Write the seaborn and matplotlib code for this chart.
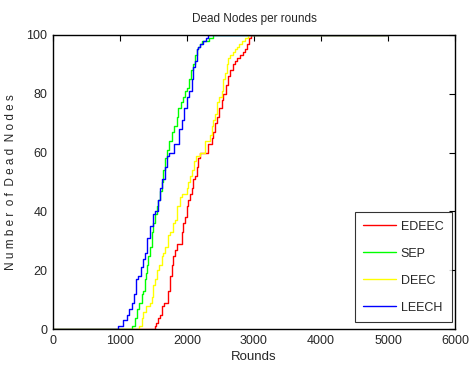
import pandas as pd
import matplotlib
matplotlib.use("Agg")
import matplotlib.pyplot as plt
import seaborn as sns

# round at which each step of the dead-node curve starts
edeec_x = [0, 1523, 1538, 1572, 1597, 1622, 1657, 1722, 1746, 1771, 1796, 1821, 1856, 1921,
           1945, 1970, 1995, 2020, 2045, 2070, 2095, 2120, 2144, 2169, 2194, 2319, 2368, 2393,
           2418, 2443, 2483, 2518, 2542, 2582, 2617, 2642, 2682, 2717, 2752, 2791, 2831, 2866,
           2901, 2931, 2960, 5000]
edeec_y = [0, 1, 2, 4, 5, 8, 9, 13, 18, 22, 25, 27, 29, 33,
           36, 38, 42, 44, 46, 48, 51, 52, 55, 58, 60, 63, 65, 67,
           70, 72, 75, 78, 80, 83, 86, 88, 90, 91, 92, 93, 94, 95,
           97, 99, 100, 100]

sep_x = [0, 1184, 1224, 1259, 1289, 1323, 1348, 1373, 1388, 1408, 1423, 1448, 1473, 1497,
         1522, 1547, 1572, 1597, 1622, 1647, 1671, 1696, 1736, 1771, 1806, 1846, 1870, 1905,
         1945, 1970, 2005, 2035, 2059, 2084, 2119, 2144, 2169, 2194, 2219, 2268, 2330, 2385,
         5000]
sep_y = [0, 1, 4, 7, 9, 12, 13, 17, 19, 22, 25, 28, 33, 36,
         39, 42, 44, 47, 50, 54, 58, 61, 64, 67, 69, 72, 75, 77,
         79, 81, 82, 85, 88, 90, 93, 95, 96, 97, 98, 98, 99, 100,
         100]

deec_x = [0, 1288, 1323, 1348, 1388, 1448, 1473, 1498, 1522, 1547, 1587, 1622, 1647, 1672,
          1722, 1746, 1786, 1821, 1846, 1896, 1920, 1995, 2020, 2045, 2070, 2100, 2130, 2190,
          2269, 2343, 2368, 2393, 2418, 2443, 2483, 2518, 2542, 2567, 2592, 2617, 2642, 2682,
          2717, 2741, 2781, 2816, 2866, 2916, 5000]
deec_y = [0, 1, 4, 6, 8, 9, 11, 15, 17, 20, 22, 25, 26, 28,
          32, 33, 36, 37, 42, 45, 46, 48, 50, 52, 54, 57, 59, 60,
          64, 66, 69, 71, 73, 77, 79, 81, 85, 87, 90, 92, 93, 94,
          95, 96, 97, 98, 99, 100, 100]

leech_x = [0, 975, 1050, 1099, 1139, 1174, 1209, 1239, 1274, 1308, 1338, 1373, 1408, 1448,
           1488, 1522, 1572, 1597, 1632, 1671, 1706, 1736, 1806, 1885, 1920, 1955, 1995, 2035,
           2069, 2084, 2119, 2144, 2169, 2194, 2234, 2283, 2320, 5000]
leech_y = [0, 1, 3, 5, 7, 9, 12, 17, 18, 21, 24, 26, 31, 35,
           39, 40, 44, 48, 51, 55, 59, 60, 63, 68, 71, 75, 79, 81,
           85, 89, 91, 95, 96, 97, 98, 99, 100, 100]

series = [("EDEEC", edeec_x, edeec_y, "#ff0000"),
          ("SEP", sep_x, sep_y, "#00ff00"),
          ("DEEC", deec_x, deec_y, "#ffff00"),
          ("LEECH", leech_x, leech_y, "#0000ff")]

sns.set_style("white")
plt.rcParams['font.family'] = ['Liberation Sans', 'DejaVu Sans']

fig = plt.figure(figsize=(4.71, 3.78), dpi=100)
ax = fig.add_axes([0.1125, 0.1288, 0.8535, 0.7793])

for name, xs, ys, col in series:
    df = pd.DataFrame({'Rounds': xs, 'Dead': ys})
    sns.lineplot(data=df, x='Rounds', y='Dead', ax=ax, color=col, linewidth=1,
                 drawstyle='steps-post', estimator=None, sort=False, label=name)

ax.set_xlim(0, 6000)
ax.set_ylim(0, 100)
ax.set_xticks(range(0, 6001, 1000))
ax.set_yticks(range(0, 101, 20))
ax.tick_params(direction='in', top=True, right=True, labelsize=9, length=4, width=0.8,
               color='black', pad=4)
for s in ax.spines.values():
    s.set_color('black')
    s.set_linewidth(1)

ax.set_title('Dead Nodes per rounds', fontsize=8.5, pad=9)
ax.set_xlabel('Rounds', fontsize=9.5, labelpad=3)
ax.set_ylabel('N u m b e r  o f  D e a d  N o d e s', fontsize=8.5, labelpad=7)

leg = ax.legend(loc='lower right', bbox_to_anchor=(0.992, 0.026), borderaxespad=0,
                fontsize=9, frameon=True, fancybox=False, edgecolor='black',
                handlelength=2.6, handletextpad=0.4, labelspacing=1.2, borderpad=0.65)
leg.get_frame().set_linewidth(0.8)

plt.savefig('out.png', dpi=100, facecolor='white')
